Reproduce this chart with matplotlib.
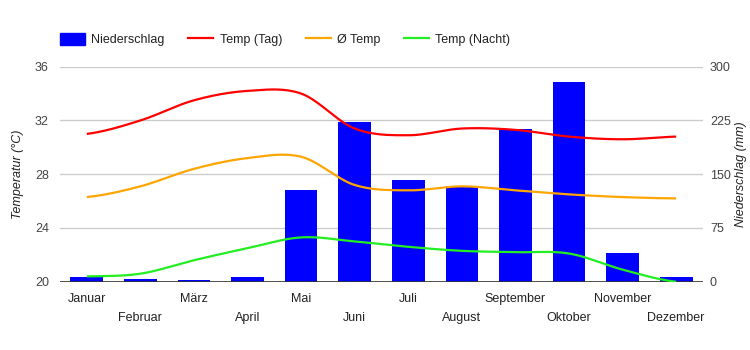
import numpy as np
import matplotlib
matplotlib.use('Agg')
import matplotlib.pyplot as plt
from matplotlib.lines import Line2D
from matplotlib.patches import Patch

plt.rcParams['font.family'] = ['Liberation Sans', 'DejaVu Sans']

# Daten
monate = ['Januar', 'Februar', 'März', 'April', 'Mai', 'Juni',
          'Juli', 'August', 'September', 'Oktober', 'November', 'Dezember']
niederschlag = [7, 4, 2, 7, 128, 223, 142, 134, 213, 279, 40, 7]
temp_tag = [31.0, 32.0, 33.5, 34.2, 34.0, 31.4, 30.9, 31.4, 31.3, 30.8, 30.6, 30.8]
temp_mittel = [26.3, 27.1, 28.4, 29.2, 29.3, 27.2, 26.8, 27.1, 26.8, 26.5, 26.3, 26.2]
temp_nacht = [20.4, 20.6, 21.6, 22.5, 23.3, 23.0, 22.6, 22.3, 22.2, 22.1, 20.9, 20.0]


def glatt(y, n=20):
    # Catmull-Rom Kurve durch die Punkte (nur zum Zeichnen)
    y = np.asarray(y, dtype=float)
    p = np.concatenate([[y[0]], y, [y[-1]]])
    xs, ys = [], []
    for i in range(len(y) - 1):
        p0, p1, p2, p3 = p[i], p[i + 1], p[i + 2], p[i + 3]
        t = np.linspace(0, 1, n, endpoint=False)
        v = 0.5 * ((2 * p1) + (-p0 + p2) * t + (2 * p0 - 5 * p1 + 4 * p2 - p3) * t ** 2
                   + (-p0 + 3 * p1 - 3 * p2 + p3) * t ** 3)
        xs.append(i + t)
        ys.append(v)
    xs.append([len(y) - 1])
    ys.append([y[-1]])
    return np.concatenate(xs), np.concatenate(ys)


x = np.arange(len(monate))

fig = plt.figure(figsize=(7.5, 3.5), dpi=100)
ax_n = fig.add_axes([0.08, 0.195, 0.8573, 0.6144])
ax = ax_n.twinx()
ax.set_zorder(ax_n.get_zorder() + 1)
ax.patch.set_visible(False)
ax.yaxis.tick_left()
ax.yaxis.set_label_position('left')
ax_n.yaxis.tick_right()
ax_n.yaxis.set_label_position('right')

# Niederschlag (Balken)
ax_n.bar(x, niederschlag, width=0.61, color='#0000ff', zorder=2)
ax_n.set_ylim(0, 300)
ax_n.set_yticks([0, 75, 150, 225, 300])
ax_n.grid(axis='y', color='#cccccc', linewidth=1, zorder=0)
ax_n.set_axisbelow(True)
ax_n.axhline(0, color='#333333', linewidth=1.2, zorder=3)

# Temperaturen
farben = {'Temp (Tag)': '#ff0000', 'Ø Temp': '#ffa500', 'Temp (Nacht)': '#22ee22'}
for name, werte in [('Temp (Tag)', temp_tag), ('Ø Temp', temp_mittel), ('Temp (Nacht)', temp_nacht)]:
    gx, gy = glatt(werte)
    ax.plot(gx, gy, color=farben[name], linewidth=1.6, solid_capstyle='butt')
ax.set_ylim(20, 36)
ax.set_yticks([20, 24, 28, 32, 36])
ax.set_xlim(-0.5, len(monate) - 0.5)

for a in (ax, ax_n):
    for s in a.spines.values():
        s.set_visible(False)
    a.tick_params(axis='y', length=0, labelsize=9, colors='#444444', pad=8)
ax_n.tick_params(axis='y', pad=5)

ax_n.set_xticks(x[0::2], [monate[i] for i in x[0::2]])
ax_n.set_xticks(x[1::2], [monate[i] for i in x[1::2]], minor=True)
ax_n.tick_params(axis='x', which='both', length=0, labelsize=9, colors='#222222')
ax_n.tick_params(axis='x', which='major', pad=8)
ax_n.tick_params(axis='x', which='minor', pad=22)

ax.set_ylabel('Temperatur (°C)', fontsize=9, style='italic', color='#222222', labelpad=8)
ax_n.set_ylabel('Niederschlag (mm)', fontsize=9, style='italic', color='#222222', labelpad=3)

handles = [Patch(color='#0000ff', label='Niederschlag'),
           Line2D([], [], color=farben['Temp (Tag)'], linewidth=1.6, label='Temp (Tag)'),
           Line2D([], [], color=farben['Ø Temp'], linewidth=1.6, label='Ø Temp'),
           Line2D([], [], color=farben['Temp (Nacht)'], linewidth=1.6, label='Temp (Nacht)')]
leg = fig.legend(handles=handles, loc='center left', bbox_to_anchor=(0.065, 0.888), ncol=4,
                 frameon=False, fontsize=9, handlelength=2.0, handleheight=1.1,
                 handletextpad=0.5, columnspacing=1.9)
for t in leg.get_texts():
    t.set_color('#222222')

fig.savefig('out.png', dpi=100)
